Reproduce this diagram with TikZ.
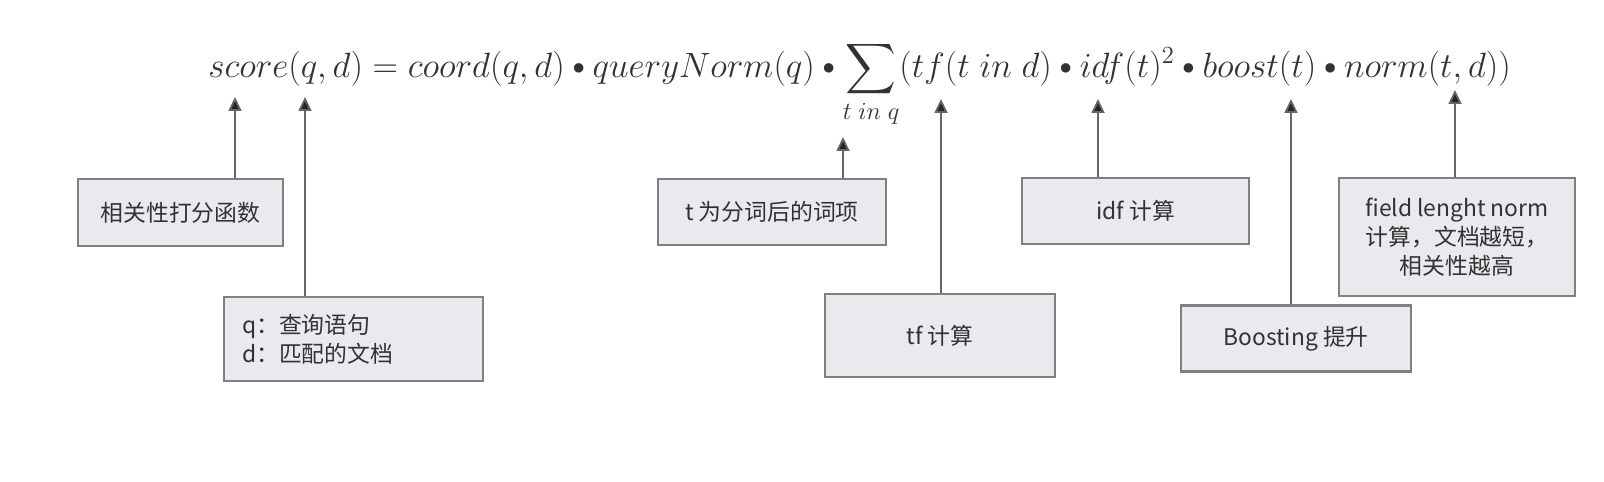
\documentclass[tikz,border=0pt]{standalone}
\usepackage{fix-cm}
\usepackage{amsmath, amssymb}
\usepackage{fontspec}
\newfontfamily\cjk{Noto Sans CJK SC}
\usetikzlibrary{arrows.meta}
\definecolor{boxGray}{RGB}{232, 234, 237}
\definecolor{edgeGray}{RGB}{128, 128, 128}
\definecolor{inkGray}{RGB}{50, 50, 50}
\newcommand{\mdot}{\mathbin{\vcenter{\hbox{\scalebox{0.7}{$\bullet$}}}}}

\begin{document}
\begin{tikzpicture}[x=0.02cm, y=-0.02cm,
    note/.style={draw=edgeGray, fill=boxGray, line width=1.2pt, text=inkGray,
      font=\cjk\fontsize{13}{16.5}\selectfont, align=center, inner sep=0pt},
    pointer/.style={draw=edgeGray!80!black, line width=1pt,
      -{Triangle[length=2.8mm, width=2.6mm, fill=black!85]}}]
  \useasboundingbox (0,0) rectangle (1604,482);
  \fill[white] (0,0) rectangle (1604,482);
  \node[anchor=base west, text=inkGray, inner sep=0pt,
    font=\fontsize{20}{24}\selectfont] (formula) at (208,78)
    {$\displaystyle score(q,d) = coord(q,d) \mdot queryNorm(q) \mdot
      \sum_{t\;in\;q} (tf(t\;in\;d) \mdot idf(t)^2 \mdot boost(t) \mdot norm(t,d))$};
  \coordinate (pScore) at (235,97);
  \coordinate (pQuery) at (305,97);
  \coordinate (pSum) at (843,137);
  \coordinate (pTf) at (941,99);
  \coordinate (pIdf) at (1098,99);
  \coordinate (pBoost) at (1291,99);
  \coordinate (pNorm) at (1455,90);
  \node[note, minimum width=4.1cm, minimum height=1.34cm] (scoreBox) at (180.5,212.5) {相关性打分函数};
  \node[note, text width=4.46cm, inner xsep=0.36cm, align=left, minimum height=1.68cm] (queryBox) at (353.5,339) {q：查询语句\\d：匹配的文档};
  \node[note, minimum width=4.56cm, minimum height=1.32cm] (termBox) at (772,212) {t 为分词后的词项};
  \node[note, minimum width=4.6cm, minimum height=1.66cm] (tfBox) at (940,335.5) {tf 计算};
  \node[note, minimum width=4.54cm, minimum height=1.32cm] (idfBox) at (1135.5,211) {idf 计算};
  \node[note, minimum width=4.6cm, minimum height=1.32cm] (boostBox) at (1296,338.5) {Boosting 提升};
  \node[note, minimum width=4.72cm, minimum height=2.36cm] (normBox) at (1457,237) {field lenght norm\\计算，文档越短，\\相关性越高};
  \draw[pointer] (pScore |- scoreBox.north) -- (pScore);
  \draw[pointer] (pQuery |- queryBox.north) -- (pQuery);
  \draw[pointer] (pSum |- termBox.north) -- (pSum);
  \draw[pointer] (pTf |- tfBox.north) -- (pTf);
  \draw[pointer] (pIdf |- idfBox.north) -- (pIdf);
  \draw[pointer] (pBoost |- boostBox.north) -- (pBoost);
  \draw[pointer] (pNorm |- normBox.north) -- (pNorm);
\end{tikzpicture}
\end{document}
